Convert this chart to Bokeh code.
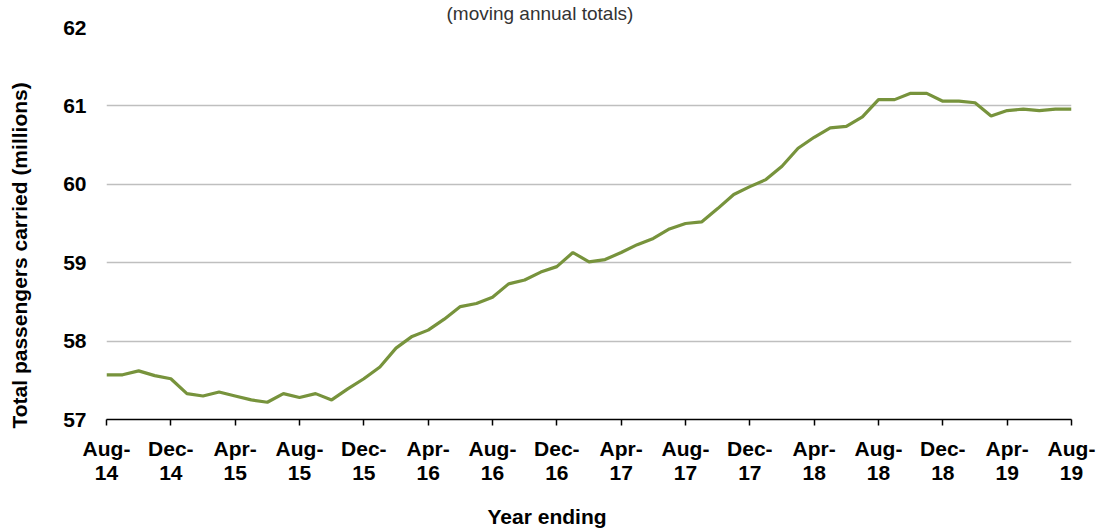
from bokeh.plotting import figure
from bokeh.models import FixedTicker, Range1d, ColumnDataSource, Title
from bokeh.embed import file_html
from bokeh.resources import INLINE

# ---- data ----
month_labels = [
    "Aug-14", "Sep-14", "Oct-14", "Nov-14", "Dec-14", "Jan-15", "Feb-15", "Mar-15",
    "Apr-15", "May-15", "Jun-15", "Jul-15", "Aug-15", "Sep-15", "Oct-15", "Nov-15",
    "Dec-15", "Jan-16", "Feb-16", "Mar-16", "Apr-16", "May-16", "Jun-16", "Jul-16",
    "Aug-16", "Sep-16", "Oct-16", "Nov-16", "Dec-16", "Jan-17", "Feb-17", "Mar-17",
    "Apr-17", "May-17", "Jun-17", "Jul-17", "Aug-17", "Sep-17", "Oct-17", "Nov-17",
    "Dec-17", "Jan-18", "Feb-18", "Mar-18", "Apr-18", "May-18", "Jun-18", "Jul-18",
    "Aug-18", "Sep-18", "Oct-18", "Nov-18", "Dec-18", "Jan-19", "Feb-19", "Mar-19",
    "Apr-19", "May-19", "Jun-19", "Jul-19", "Aug-19",
]
passengers = [
    57.57, 57.57, 57.62, 57.56, 57.52, 57.33, 57.30, 57.35,
    57.30, 57.25, 57.22, 57.33, 57.28, 57.33, 57.25, 57.39,
    57.52, 57.67, 57.91, 58.06, 58.14, 58.28, 58.44, 58.48,
    58.56, 58.73, 58.78, 58.88, 58.95, 59.13, 59.01, 59.04,
    59.13, 59.23, 59.31, 59.43, 59.50, 59.52, 59.69, 59.87,
    59.97, 60.06, 60.23, 60.46, 60.60, 60.72, 60.74, 60.86,
    61.08, 61.08, 61.16, 61.16, 61.06, 61.06, 61.04, 60.87,
    60.94, 60.96, 60.94, 60.96, 60.96,
]
tick_labels = [
    "Aug-\n14", "Dec-\n14", "Apr-\n15", "Aug-\n15", "Dec-\n15", "Apr-\n16",
    "Aug-\n16", "Dec-\n16", "Apr-\n17", "Aug-\n17", "Dec-\n17", "Apr-\n18",
    "Aug-\n18", "Dec-\n18", "Apr-\n19", "Aug-\n19",
]
y_ticks = [57, 58, 59, 60, 61, 62]

title_text = "(moving annual totals)"
y_title = "Total passengers carried (millions)"
x_title = "Year ending"

FONT = "Liberation Sans"
LINE_COLOR = "#77933C"

x_idx = list(range(len(month_labels)))
source = ColumnDataSource(dict(x=x_idx, y=passengers, month=month_labels))
tick_pos = [i for i in x_idx if i % 4 == 0]

p = figure(
    width=1097, height=528,
    output_backend="svg", toolbar_location=None,
    x_range=Range1d(0, len(month_labels) - 1),
    y_range=Range1d(57, 62),
    min_border_left=106, min_border_right=26,
    min_border_top=27, min_border_bottom=107,
)
p.outline_line_color = None
p.background_fill_color = "white"
p.border_fill_color = "white"

p.line("x", "y", source=source, line_color=LINE_COLOR, line_width=3.2)

# top title
p.title.text = title_text
p.title.align = "left"
p.title.offset = 340
p.title.vertical_align = "top"
p.title.standoff = 4
p.title.text_font = FONT
p.title.text_font_style = "normal"
p.title.text_font_size = "19px"
p.title.text_color = "#333333"

# x axis
xa = p.xaxis[0]
xa.ticker = FixedTicker(ticks=tick_pos)
xa.major_label_overrides = {t: lab for t, lab in zip(tick_pos, tick_labels)}
xa.axis_line_color = "black"
xa.axis_line_width = 1.5
xa.major_tick_line_color = "black"
xa.major_tick_line_width = 1.5
xa.major_tick_in = 0
xa.major_tick_out = 6
xa.minor_tick_line_color = None
xa.major_label_text_font = FONT
xa.major_label_text_font_style = "bold"
xa.major_label_text_font_size = "21px"
xa.major_label_text_color = "black"
xa.major_label_text_line_height = 1.05
xa.major_label_standoff = 11

# y axis
ya = p.yaxis[0]
ya.ticker = FixedTicker(ticks=y_ticks)
ya.axis_line_color = None
ya.major_tick_line_color = None
ya.minor_tick_line_color = None
ya.major_tick_out = 0
ya.major_tick_in = 0
ya.major_label_text_font = FONT
ya.major_label_text_font_style = "bold"
ya.major_label_text_font_size = "21px"
ya.major_label_text_color = "black"
ya.major_label_standoff = 20

p.xgrid.grid_line_color = None
p.ygrid.ticker = FixedTicker(ticks=y_ticks)
p.ygrid.grid_line_color = "#BFBFBF"
p.ygrid.grid_line_width = 1.5

# axis titles as side titles (positioned with offsets)
yt = Title(text=y_title + "\n", align="left", offset=-9, vertical_align="bottom",
           standoff=0, text_font=FONT, text_font_style="bold",
           text_font_size="21px", text_color="black", text_line_height=1.3)
p.add_layout(yt, "left")
xt = Title(text="\n" + x_title, align="left", offset=381, vertical_align="bottom",
           standoff=0, text_font=FONT, text_font_style="bold",
           text_font_size="21px", text_color="black", text_line_height=0.72)
p.add_layout(xt, "below")

open("out.html", "w").write(file_html(p, INLINE))
